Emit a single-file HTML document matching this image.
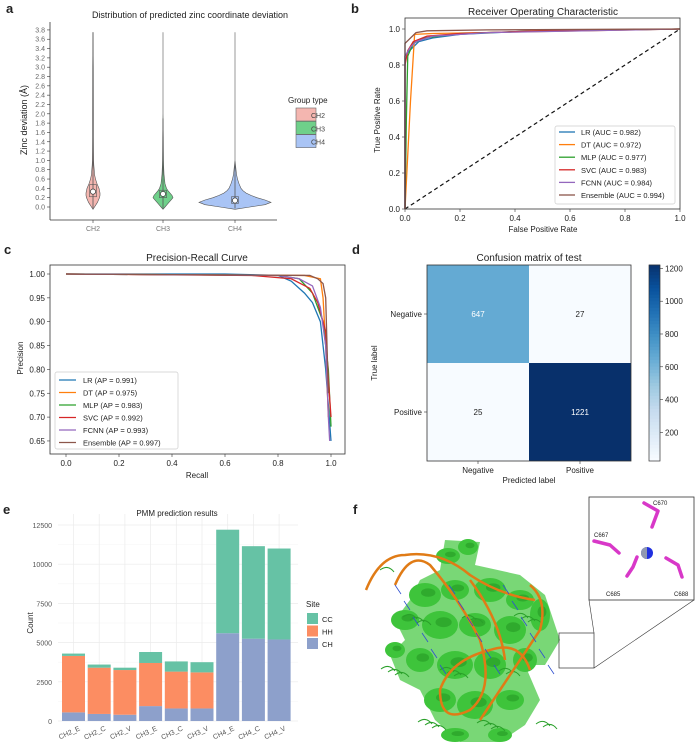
<!DOCTYPE html>
<html><head><meta charset="utf-8"><style>
html,body{margin:0;padding:0;background:#fff}
svg{display:block;font-family:"Liberation Sans",sans-serif}
</style></head><body>
<svg id="fig" width="696" height="750" viewBox="0 0 696 750" xmlns="http://www.w3.org/2000/svg">
<g id="pa"></g>
<g id="pb"></g>
<g id="pc"></g>
<g id="pd"></g>
<g id="pe"></g>
<g id="pf"></g>
</svg>
<script>
// ---------- data ----------
const violinGroups = ["CH2","CH3","CH4"];
const violinColors = ["#f4b6b0","#6fd08a","#a9c4f5"];
const violinY = [-0.05,0,0.05,0.1,0.15,0.2,0.25,0.3,0.35,0.4,0.5,0.6,0.7,0.8,0.9,1.0,1.2,1.5,2.0,3.0,3.75];
const violinCH2 = [0,1.5,3,4.5,5.5,6.5,7,7,6.5,6,4,2.5,1.5,1.2,0.8,0.6,0.5,0.4,0.4,0.3,0];
const violinCH3 = [0,2,4,6,8,10,9,7,5,3.5,2,1.5,1,0.8,0.6,0.5,0.4,0.3,0,0,0];
const violinCH4 = [0,15,30,36,30,22,16,11,8,6,4,2.5,1.5,1,0.5,0,0,0,0,0,0];
const violinMax = [3.75,1.9,0.92];
const violinMedian = [0.33,0.28,0.14];
const violinQ1 = [0.22,0.2,0.08];
const violinQ3 = [0.48,0.36,0.22];
const aTicks = [0,0.2,0.4,0.6,0.8,1.0,1.2,1.4,1.6,1.8,2.0,2.2,2.4,2.6,2.8,3.0,3.2,3.4,3.6,3.8];

const modelNames = ["LR","DT","MLP","SVC","FCNN","Ensemble"];
const modelColors = ["#1f77b4","#ff7f0e","#2ca02c","#d62728","#9467bd","#8c564b"];
const aucVals = ["0.982","0.972","0.977","0.983","0.984","0.994"];
const apVals = ["0.991","0.975","0.983","0.992","0.993","0.997"];
const rocLR = [[0,0],[0,0.85],[0.01,0.87],[0.03,0.9],[0.05,0.93],[0.1,0.95],[0.2,0.97],[0.4,0.985],[0.6,0.99],[1,1]];
const rocDT = [[0,0],[0.02,0.6],[0.035,0.97],[0.1,0.975],[1,1]];
const rocMLP = [[0,0],[0.005,0.5],[0.01,0.85],[0.03,0.92],[0.07,0.95],[0.2,0.975],[0.5,0.99],[1,1]];
const rocSVC = [[0,0],[0,0.8],[0.01,0.88],[0.03,0.93],[0.08,0.96],[0.2,0.975],[0.5,0.99],[1,1]];
const rocFCNN = [[0,0],[0,0.85],[0.02,0.9],[0.04,0.93],[0.1,0.96],[0.3,0.98],[1,1]];
const rocEns = [[0,0],[0,0.92],[0.02,0.95],[0.04,0.98],[0.08,0.99],[0.3,0.995],[1,1]];
const prLR = [[0,1],[0.6,1],[0.8,0.997],[0.85,0.985],[0.9,0.96],[0.93,0.94],[0.96,0.9],[0.98,0.8],[1,0.65]];
const prDT = [[0,1],[0.9,0.997],[0.96,0.99],[0.97,0.95],[0.98,0.85],[0.99,0.7]];
const prMLP = [[0,1],[0.8,0.997],[0.88,0.99],[0.93,0.96],[0.97,0.9],[0.99,0.8],[1,0.68]];
const prSVC = [[0,1],[0.7,0.997],[0.85,0.99],[0.92,0.97],[0.95,0.94],[0.98,0.88],[0.99,0.78],[1,0.7]];
const prFCNN = [[0,1],[0.8,0.997],[0.88,0.99],[0.93,0.975],[0.96,0.93],[0.98,0.85],[0.99,0.7],[0.995,0.65]];
const prEns = [[0,1],[0.92,0.997],[0.95,0.99],[0.97,0.98],[0.98,0.95],[0.985,0.85],[0.99,0.75]];

const cmLabels = ["Negative","Positive"];
const cmValues = [[647,27],[25,1221]];
const cbTicks = [200,400,600,800,1000,1200];

const barCats = ["CH2_E","CH2_C","CH2_V","CH3_E","CH3_C","CH3_V","CH4_E","CH4_C","CH4_V"];
const barCH = [550,450,400,950,800,800,5600,5250,5200];
const barHH = [3600,2950,2850,2750,2350,2300,0,0,0];
const barCC = [150,200,150,700,650,650,6600,5900,5800];
const eTicks = [0,2500,5000,7500,10000,12500];

// ---------- helpers ----------
const NS="http://www.w3.org/2000/svg";
function mk(parent,tag,attrs,text){const e=document.createElementNS(NS,tag);for(const k in attrs)e.setAttribute(k,attrs[k]);if(text!==undefined)e.textContent=text;parent.appendChild(e);return e;}
function txt(p,x,y,s,size,opt){opt=opt||{};return mk(p,"text",Object.assign({x:x,y:y,"font-size":size,fill:opt.fill||"#222","text-anchor":opt.anchor||"middle"},opt.extra||{}),s);}

// ---------- panel a ----------
(function(){
const g=document.getElementById("pa");
const Y=v=>207-v*46.6;
const X=[93,163,235];
const L=txt(g,6,13,"a",13,{anchor:"start",extra:{"font-weight":"bold"}});

const t=txt(g,190,18,"Distribution of predicted zinc coordinate deviation",9);

mk(g,"line",{x1:50,y1:22,x2:50,y2:220,stroke:"#333","stroke-width":0.8});
mk(g,"line",{x1:50,y1:220,x2:277,y2:220,stroke:"#333","stroke-width":0.8});
aTicks.forEach(v=>{mk(g,"line",{x1:47,x2:50,y1:Y(v),y2:Y(v),stroke:"#333","stroke-width":0.6});
 const e=txt(g,45,Y(v)+2.5,v.toFixed(1),7,{anchor:"end",fill:"#666"});});
const yt=txt(g,0,0,"Zinc deviation (Å)",9,{extra:{transform:"translate(27,120) rotate(-90)"}});

const dens=[violinCH2,violinCH3,violinCH4];
violinGroups.forEach((gname,i)=>{
 const cx=X[i];
 const pts=violinY.map((v,k)=>[v,dens[i][k]]);
 const right=pts.map(p=>(cx+p[1])+","+Y(p[0]));
 const left=pts.slice().reverse().map(p=>(cx-p[1])+","+Y(p[0]));
 const vp=mk(g,"polygon",{points:right.concat(left).join(" "),fill:violinColors[i],stroke:"#555","stroke-width":0.6});
 
 mk(g,"line",{x1:cx,x2:cx,y1:Y(violinMax[i]),y2:Y(-0.03),stroke:"#555","stroke-width":0.8});
 const bx=mk(g,"rect",{x:cx-3.5,y:Y(violinQ3[i]),width:7,height:Y(violinQ1[i])-Y(violinQ3[i]),fill:"none",stroke:"#555","stroke-width":0.6});
 
 mk(g,"circle",{cx:cx,cy:Y(violinMedian[i]),r:2.6,fill:"#fff",stroke:"#333","stroke-width":0.7});
 mk(g,"line",{x1:cx,x2:cx,y1:220,y2:223,stroke:"#333","stroke-width":0.6});
 const xl=txt(g,cx,231,gname,7,{fill:"#777"});
});
const lt=txt(g,288,103,"Group type",8,{anchor:"start"});
violinGroups.forEach((gname,i)=>{
 const le=mk(g,"g",{});
 mk(le,"rect",{x:296,y:108+i*13.3,width:20,height:13,fill:violinColors[i],stroke:"#666","stroke-width":0.6});
 txt(le,311,118+i*13.3,gname,7,{anchor:"start",fill:"#444"});
});
})();

// ---------- panel b ----------
(function(){
const g=document.getElementById("pb");
const X=v=>405+v*275, Y=v=>209-v*180;
const L=txt(g,351,13,"b",13,{anchor:"start",extra:{"font-weight":"bold"}});
const t=txt(g,543,15,"Receiver Operating Characteristic",10);
[0,0.2,0.4,0.6,0.8,1.0].forEach(v=>{
 mk(g,"line",{x1:X(v),x2:X(v),y1:209,y2:212,stroke:"#333","stroke-width":0.6});
 const a=txt(g,X(v),221,v.toFixed(1),8);
 mk(g,"line",{x1:402,x2:405,y1:Y(v),y2:Y(v),stroke:"#333","stroke-width":0.6});
 const b=txt(g,400,Y(v)+3,v.toFixed(1),8,{anchor:"end"});
});
const xt=txt(g,543,232,"False Positive Rate",8);
const yt=txt(g,0,0,"True Positive Rate",8,{extra:{transform:"translate(380,120) rotate(-90)"}});
mk(g,"line",{x1:X(0),y1:Y(0),x2:X(1),y2:Y(1),stroke:"#111","stroke-width":1.2,"stroke-dasharray":"4,3"});
[rocLR,rocDT,rocMLP,rocSVC,rocFCNN,rocEns].forEach((d,i)=>{
 const p=mk(g,"polyline",{points:d.map(q=>X(q[0])+","+Y(q[1])).join(" "),fill:"none",stroke:modelColors[i],"stroke-width":1.3});
 
});
mk(g,"rect",{x:405,y:18,width:275,height:191,fill:"none",stroke:"#333","stroke-width":0.8});
const lg=mk(g,"g",{});
mk(lg,"rect",{x:555,y:126,width:120,height:78,rx:2,fill:"#fff",stroke:"#ccc","stroke-width":0.7});
modelNames.forEach((n,i)=>{const y=132+i*12.6;
 const le=mk(lg,"g",{});
 mk(le,"line",{x1:559,x2:575,y1:y,y2:y,stroke:modelColors[i],"stroke-width":1.3});
 txt(le,581,y+3,n+" (AUC = "+aucVals[i]+")",7.5,{anchor:"start"});});
})();

// ---------- panel c ----------
(function(){
const g=document.getElementById("pc");
const X=v=>66+v*265, Y=v=>274+(1-v)*477;
const L=txt(g,4,254,"c",13,{anchor:"start",extra:{"font-weight":"bold"}});
const t=txt(g,197,261,"Precision-Recall Curve",10);
[0,0.2,0.4,0.6,0.8,1.0].forEach(v=>{
 mk(g,"line",{x1:X(v),x2:X(v),y1:454,y2:457,stroke:"#333","stroke-width":0.6});
 const a=txt(g,X(v),466,v.toFixed(1),8);});
[0.65,0.70,0.75,0.80,0.85,0.90,0.95,1.00].forEach(v=>{
 mk(g,"line",{x1:47,x2:50,y1:Y(v),y2:Y(v),stroke:"#333","stroke-width":0.6});
 const b=txt(g,45,Y(v)+3,v.toFixed(2),8,{anchor:"end"});});
const xt=txt(g,197,478,"Recall",8);
const yt=txt(g,0,0,"Precision",8,{extra:{transform:"translate(23,358) rotate(-90)"}});
[prLR,prDT,prMLP,prSVC,prFCNN,prEns].forEach((d,i)=>{
 const p=mk(g,"polyline",{points:d.map(q=>X(q[0])+","+Math.min(454,Y(q[1]))).join(" "),fill:"none",stroke:modelColors[i],"stroke-width":1.3});
 });
mk(g,"rect",{x:50,y:265,width:295,height:189,fill:"none",stroke:"#333","stroke-width":0.8});
const lg=mk(g,"g",{});
mk(lg,"rect",{x:55,y:372,width:123,height:77,rx:2,fill:"#fff",stroke:"#ccc","stroke-width":0.7});
modelNames.forEach((n,i)=>{const y=380+i*12.5;
 const le=mk(lg,"g",{});
 mk(le,"line",{x1:59,x2:76,y1:y,y2:y,stroke:modelColors[i],"stroke-width":1.3});
 txt(le,83,y+3,n+" (AP = "+apVals[i]+")",7.5,{anchor:"start"});});
})();

// ---------- panel d ----------
(function(){
const g=document.getElementById("pd");
const L=txt(g,352,254,"d",13,{anchor:"start",extra:{"font-weight":"bold"}});
const t=txt(g,529,261,"Confusion matrix of test",10);
const x0=427,y0=265,cw=102,ch=98;
const vmin=25,vmax=1221;
function blues(v){const t=(v-vmin)/(vmax-vmin);
 const stops=[[0,[247,251,255]],[0.125,[222,235,247]],[0.25,[198,219,239]],[0.375,[158,202,225]],[0.5,[107,174,214]],[0.625,[66,146,198]],[0.75,[33,113,181]],[0.875,[8,81,156]],[1,[8,48,107]]];
 for(let i=1;i<stops.length;i++){if(t<=stops[i][0]){const a=stops[i-1],b=stops[i],f=(t-a[0])/(b[0]-a[0]);return "rgb("+a[1].map((c,k)=>Math.round(c+(b[1][k]-c)*f)).join(",")+")";}}return "rgb(8,48,107)";}
cmValues.forEach((row,r)=>row.forEach((v,c)=>{
 const cell=mk(g,"rect",{x:x0+c*cw,y:y0+r*ch,width:cw,height:ch,fill:blues(v)});
 
 const tv=txt(g,x0+c*cw+cw/2,y0+r*ch+ch/2+3,String(v),8,{fill:(v-vmin)/(vmax-vmin)>0.45?"#fff":"#222"});
 
}));
mk(g,"rect",{x:x0,y:y0,width:2*cw,height:2*ch,fill:"none",stroke:"#333","stroke-width":0.8});
cmLabels.forEach((n,i)=>{
 mk(g,"line",{x1:x0-3,x2:x0,y1:y0+i*ch+ch/2,y2:y0+i*ch+ch/2,stroke:"#333","stroke-width":0.6});
 const a=txt(g,x0-5,y0+i*ch+ch/2+3,n,8,{anchor:"end"});
 mk(g,"line",{x1:x0+i*cw+cw/2,x2:x0+i*cw+cw/2,y1:y0+2*ch,y2:y0+2*ch+3,stroke:"#333","stroke-width":0.6});
 const b=txt(g,x0+i*cw+cw/2,y0+2*ch+12,n,8);});
const xt=txt(g,529,483,"Predicted label",8);
const yt=txt(g,0,0,"True label",8,{extra:{transform:"translate(377,363) rotate(-90)"}});
const cb=mk(g,"g",{});
const cbY=v=>461-(v-vmin)/(vmax-vmin)*196;
for(let k=0;k<60;k++){const v=vmin+(vmax-vmin)*k/60;mk(cb,"rect",{x:649,y:cbY(v+(vmax-vmin)/60)-0.3,width:11,height:196/60+0.6,fill:blues(v)});}
mk(cb,"rect",{x:649,y:265,width:11,height:196,fill:"none",stroke:"#333","stroke-width":0.7});
cbTicks.forEach(v=>{mk(cb,"line",{x1:660,x2:663,y1:cbY(v),y2:cbY(v),stroke:"#333","stroke-width":0.6});
 const e=txt(cb,665,cbY(v)+3,String(v),8,{anchor:"start"});});
})();

// ---------- panel e ----------
(function(){
const g=document.getElementById("pe");
const Y=v=>721-v*(196/12500);
const L=txt(g,3,514,"e",13,{anchor:"start",extra:{"font-weight":"bold"}});
const t=txt(g,177,516,"PMM prediction results",8);
const px0=58,px1=298,step=25.7,bw=23,c0=73.5;
eTicks.forEach((v,i)=>{mk(g,"line",{x1:px0,x2:px1,y1:Y(v),y2:Y(v),stroke:"#ebebeb","stroke-width":0.7});
 if(i<eTicks.length-1)mk(g,"line",{x1:px0,x2:px1,y1:Y(v+1250),y2:Y(v+1250),stroke:"#f5f5f5","stroke-width":0.5});
 const e=txt(g,52,Y(v)+3,String(v),7,{anchor:"end",fill:"#555"});});
barCats.forEach((c,i)=>mk(g,"line",{x1:c0+i*step,x2:c0+i*step,y1:Y(13200),y2:721,stroke:"#ebebeb","stroke-width":0.7}));
const yt=txt(g,0,0,"Count",8,{extra:{transform:"translate(33,623) rotate(-90)"}});
const cols={CH:"#8da0cb",HH:"#fc8d62",CC:"#66c2a5"};
barCats.forEach((c,i)=>{const cx=c0+i*step;let base=0;
 [["CH",barCH[i]],["HH",barHH[i]],["CC",barCC[i]]].forEach(([k,v])=>{
  if(v<=0)return;
  const r=mk(g,"rect",{x:cx-bw/2,y:Y(base+v),width:bw,height:Y(base)-Y(base+v),fill:cols[k]});
  
  base+=v;});
 const xl=txt(g,0,0,c,7,{anchor:"end",fill:"#555",extra:{transform:"translate("+(cx+7)+",730) rotate(-25)"}});
 });
const lt=txt(g,306,607,"Site",8,{anchor:"start"});
["CC","HH","CH"].forEach((k,i)=>{const le=mk(g,"g",{});
 mk(le,"rect",{x:307,y:613+i*12.5,width:11,height:11,fill:cols[k]});
 txt(le,322,622+i*12.5,k,7.5,{anchor:"start"});});
})();

// ---------- panel f ----------
(function(){
const g=document.getElementById("pf");
const L=txt(g,353,514,"f",13,{anchor:"start",extra:{"font-weight":"bold"}});
const prot=mk(g,"g",{});
mk(prot,"path",{d:"M 445 540 L 480 542 L 475 565 L 520 575 L 545 595 L 560 640 L 545 665 L 525 665 L 540 700 L 525 725 L 500 742 L 460 742 L 435 720 L 420 690 L 400 680 L 390 655 L 405 640 L 395 620 L 410 600 L 420 580 L 440 570 Z",fill:"#4cc948",opacity:0.75});
const blobs=[[448,556,12,8],[468,547,10,8],[425,595,16,12],[455,590,14,10],[490,590,16,12],[520,600,14,10],[405,620,14,10],[440,625,18,14],[475,625,16,12],[510,630,16,14],[540,615,10,16],[420,660,14,12],[455,665,18,14],[490,665,16,14],[525,660,12,12],[440,700,16,12],[475,705,18,14],[510,700,14,10],[455,735,14,7],[500,735,12,7],[395,650,10,8]];
blobs.forEach(b=>mk(prot,"ellipse",{cx:b[0],cy:b[1],rx:b[2],ry:b[3],fill:"#3ec43b"}));
blobs.forEach(b=>mk(prot,"ellipse",{cx:b[0]+b[2]*0.2,cy:b[1]-b[3]*0.2,rx:b[2]*0.45,ry:b[3]*0.35,fill:"#1f8f1f",opacity:0.5}));
for(let k=0;k<25;k++){const x=380+(k*37)%170,y=570+(k*53)%160;mk(prot,"path",{d:"M "+x+" "+y+" q 8 -6 14 2",fill:"none",stroke:"#2aa02a","stroke-width":1});}
["M 366 590 Q 380 555 405 555 Q 440 550 470 575 Q 500 595 535 600","M 395 585 Q 410 550 430 565 Q 460 600 480 640 Q 495 690 470 710 Q 440 725 440 690 Q 450 660 490 650 Q 520 640 530 670","M 470 580 Q 500 620 505 660","M 480 720 Q 520 660 540 630 Q 548 600 530 585"].forEach(d=>{
 mk(prot,"path",{d:d,fill:"none",stroke:"#e07b16","stroke-width":2.5});});
for(let k=0;k<18;k++){const x=395+k*9,y=585+(k%6)*16;mk(prot,"line",{x1:x,y1:y,x2:x+6,y2:y+9,stroke:"#3050d0","stroke-width":0.8});}
mk(g,"rect",{x:559,y:633,width:35,height:35,fill:"none",stroke:"#333","stroke-width":0.7});
mk(g,"line",{x1:594,y1:633,x2:589,y2:600,stroke:"#333","stroke-width":0.6});
mk(g,"line",{x1:594,y1:668,x2:694,y2:600,stroke:"#333","stroke-width":0.6});
const ins=mk(g,"g",{});
mk(ins,"rect",{x:589,y:497,width:105,height:103,fill:"#fff",stroke:"#333","stroke-width":0.8});
[["M 644 503 L 658 511 L 652 527","C670",653,505],["M 594 541 L 610 545 L 619 553","C667",594,537],["M 627 576 L 633 567 L 637 557","C685",606,596],["M 666 558 L 678 565 L 682 577","C688",674,596]].forEach(s=>{
 mk(ins,"path",{d:s[0],fill:"none",stroke:"#d838c8","stroke-width":3.5,"stroke-linecap":"round","stroke-linejoin":"round"});
 const e=txt(ins,s[2],s[3],s[1],6,{anchor:"start"});});
mk(ins,"circle",{cx:647,cy:553,r:6,fill:"#2030e0"});
mk(ins,"path",{d:"M 641 553 A 6 6 0 0 1 647 547 L 647 559 A 6 6 0 0 1 641 553",fill:"#9098b0"});
})();
</script>
</body></html>
